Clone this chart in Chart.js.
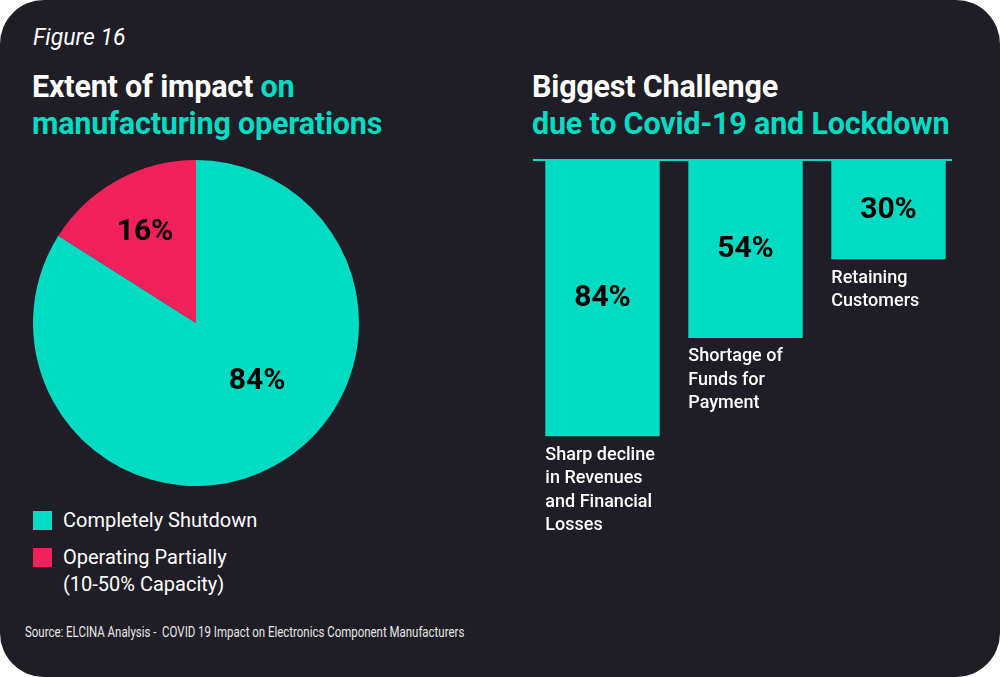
<!DOCTYPE html>
<html>
<head>
<meta charset="utf-8">
<script src="https://cdn.jsdelivr.net/npm/chart.js@4/dist/chart.umd.min.js"></script>
<style>
  html, body { margin:0; padding:0; background:#ffffff; }
  body { width:1000px; height:677px; position:relative; overflow:hidden; font-family: Roboto, "Noto Sans", sans-serif; }
  #card { position:absolute; left:0; top:0; width:1000px; height:677px; background:#1f1d25; border-radius:44px; }
  .abs { position:absolute; white-space:nowrap; }
  .fig { left:33px; top:24px; font-size:23px; font-style:italic; font-weight:400; color:#ffffff; }
  .title { font-size:30.5px; font-weight:700; line-height:37px; color:#ffffff; letter-spacing:-0.2px; }
  .teal { color:#00dcc4; }
  #legend { left:33px; top:507px; }
  .leg-item { position:relative; padding-left:30px; font-size:20px; line-height:27px; color:#ffffff; margin-bottom:10px; }
  .leg-box { position:absolute; left:0; top:4px; width:19px; height:19px; }
  .source { left:25px; top:624px; font-size:14.5px; color:#e8e8e8; transform-origin:0 0; transform:scaleX(0.79); }
  canvas { position:absolute; }
</style>
</head>
<body>
<div id="card"></div>
<div class="abs fig">Figure 16</div>
<div class="abs title" style="left:32px; top:68px;">Extent of impact <span class="teal">on</span><br><span class="teal">manufacturing operations</span></div>
<div class="abs title" style="left:532px; top:68px;">Biggest Challenge<br><span class="teal">due to Covid-19 and Lockdown</span></div>
<div class="abs" id="legend"></div>
<div class="abs source">Source: ELCINA Analysis -&nbsp; COVID 19 Impact on Electronics Component Manufacturers</div>
<div style="position:absolute; left:33px; top:160px; width:326px; height:326px;"><canvas id="pie" width="326" height="326" style="left:0;top:0;"></canvas></div>
<div style="position:absolute; left:531px; top:158px; width:429px; height:383px;"><canvas id="bar" width="429" height="383" style="left:0;top:0;"></canvas></div>
<script>
// ---- data ----
const pieLabels = [['Completely Shutdown'], ['Operating Partially', '(10-50% Capacity)']];
const pieValues = [84, 16];
const pieColors = ['#00dcc4', '#f2215c'];
const pieLabelOffsets = [[0.375, 0.356], [-0.313, -0.558]]; // fraction of radius from centre

const barCategories = [
  ['Sharp decline', 'in Revenues', 'and Financial', 'Losses'],
  ['Shortage of', 'Funds for', 'Payment'],
  ['Retaining', 'Customers']
];
const barValues = [84, 54, 30];
const barColor = '#00dcc4';

// ---- legend ----
const legend = document.getElementById('legend');
pieLabels.forEach((lines, i) => {
  const d = document.createElement('div');
  d.className = 'leg-item';
  d.innerHTML = '<span class="leg-box" style="background:' + pieColors[i] + '"></span>' + lines.join('<br>');
  legend.appendChild(d);
});

// ---- pie ----
const pieLabelPlugin = {
  id: 'pieLabels',
  afterDatasetsDraw(chart) {
    const ctx = chart.ctx;
    const meta = chart.getDatasetMeta(0);
    ctx.save();
    ctx.fillStyle = '#000000';
    ctx.font = '700 30px Roboto';
    ctx.textAlign = 'center';
    ctx.textBaseline = 'middle';
    meta.data.forEach((arc, i) => {
      const r = arc.outerRadius;
      ctx.fillText(pieValues[i] + '%', arc.x + pieLabelOffsets[i][0] * r, arc.y + pieLabelOffsets[i][1] * r);
    });
    ctx.restore();
  }
};
new Chart(document.getElementById('pie'), {
  type: 'pie',
  data: { labels: pieLabels.map(l => l.join(' ')), datasets: [{ data: pieValues, backgroundColor: pieColors, borderWidth: 0, hoverOffset: 0 }] },
  options: {
    responsive: false, animation: false,
    layout: { padding: 0 },
    plugins: { legend: { display: false }, tooltip: { enabled: false } }
  },
  plugins: [pieLabelPlugin]
});

// ---- bar ----
const barLabelPlugin = {
  id: 'barLabels',
  afterDatasetsDraw(chart) {
    const ctx = chart.ctx;
    const meta = chart.getDatasetMeta(0);
    const ca = chart.chartArea;
    ctx.save();
    // baseline line at top
    ctx.strokeStyle = barColor;
    ctx.lineWidth = 2;
    ctx.beginPath();
    ctx.moveTo(ca.left + 2, ca.top - 1);
    ctx.lineTo(ca.right - 8, ca.top - 1);
    ctx.stroke();
    meta.data.forEach((bar, i) => {
      const top = Math.min(bar.y, bar.base), bottom = Math.max(bar.y, bar.base);
      ctx.fillStyle = '#000000';
      ctx.font = '700 30px Roboto';
      ctx.textAlign = 'center';
      ctx.textBaseline = 'middle';
      ctx.fillText(barValues[i] + '%', bar.x, (top + bottom) / 2);
      ctx.fillStyle = '#ffffff';
      ctx.font = '500 18px Roboto';
      ctx.textAlign = 'left';
      barCategories[i].forEach((line, k) => {
        ctx.fillText(line, bar.x - bar.width / 2, bottom + 19 + k * 23.5);
      });
    });
    ctx.restore();
  }
};
new Chart(document.getElementById('bar'), {
  type: 'bar',
  data: { labels: barCategories.map(l => l.join(' ')), datasets: [{ data: barValues, backgroundColor: barColor, borderWidth: 0, barPercentage: 0.8, categoryPercentage: 1.0 }] },
  options: {
    responsive: false, animation: false,
    layout: { padding: { top: 3, left: 0, right: 0, bottom: 0 } },
    scales: {
      x: { display: false },
      y: { display: false, reverse: true, min: 0, max: 116 }
    },
    plugins: { legend: { display: false }, tooltip: { enabled: false } }
  },
  plugins: [barLabelPlugin]
});
</script>
</body>
</html>
